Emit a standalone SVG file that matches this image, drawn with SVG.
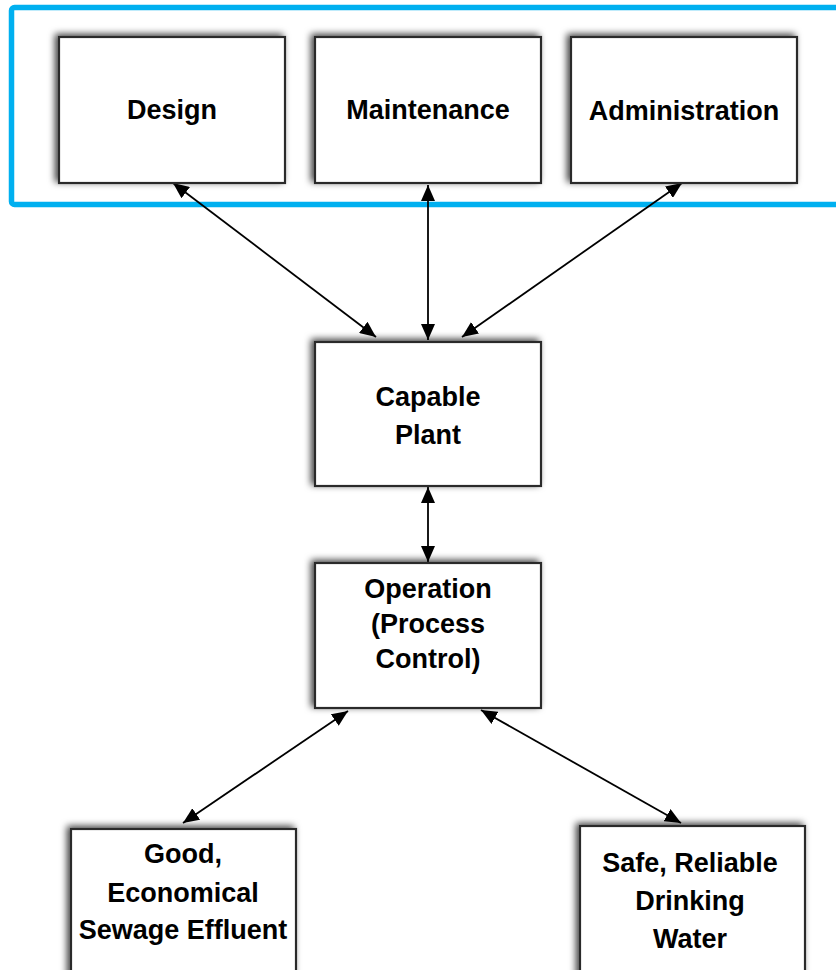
<svg xmlns="http://www.w3.org/2000/svg" width="836" height="970" viewBox="0 0 836 970">
  <style>
    .box { fill: #ffffff; stroke: #2b2b2b; stroke-width: 2.2; filter: url(#shadow); }
    .label { font-family: "Liberation Sans", Arial, sans-serif; font-weight: bold; font-size: 27px; fill: #000000; text-anchor: middle; }
    .link { stroke: #000000; stroke-width: 1.8; fill: none; marker-start: url(#head); marker-end: url(#head); }
    .frame { fill: none; stroke: #00B0F0; stroke-width: 5.5; }
  </style>
  <defs>
    <filter id="shadow" x="-20%" y="-20%" width="140%" height="140%">
      <feDropShadow dx="-3" dy="-2" stdDeviation="3.5" flood-color="#000000" flood-opacity="0.75"/>
    </filter>
    <marker id="head" markerUnits="userSpaceOnUse" markerWidth="16" markerHeight="14" refX="16" refY="7" orient="auto-start-reverse">
      <path d="M0,0 L16,7 L0,14 z" fill="#000000"/>
    </marker>
  </defs>

  <rect width="836" height="970" fill="#ffffff"/>

  <!-- support functions frame -->
  <rect class="frame" x="11.5" y="7.5" width="840" height="197" rx="3"/>

  <g id="connectors">
    <line class="link" x1="173" y1="183" x2="376" y2="337"/>
    <line class="link" x1="428" y1="185" x2="428" y2="340"/>
    <line class="link" x1="682" y1="183" x2="462" y2="337"/>
    <line class="link" x1="428" y1="487" x2="428" y2="562"/>
    <line class="link" x1="348" y1="711" x2="183" y2="823"/>
    <line class="link" x1="481" y1="710" x2="681" y2="823"/>
  </g>

  <g id="design">
    <rect class="box" x="59" y="37" width="226" height="146"/>
    <text class="label" x="172" y="119">Design</text>
  </g>
  <g id="maintenance">
    <rect class="box" x="315" y="37" width="226" height="146"/>
    <text class="label" x="428" y="119">Maintenance</text>
  </g>
  <g id="administration">
    <rect class="box" x="571" y="37" width="226" height="146"/>
    <text class="label" x="684" y="120">Administration</text>
  </g>
  <g id="capable-plant">
    <rect class="box" x="315" y="342" width="226" height="144"/>
    <text class="label" x="428" y="406">Capable</text>
    <text class="label" x="428" y="444">Plant</text>
  </g>
  <g id="operation">
    <rect class="box" x="315" y="563" width="226" height="145"/>
    <text class="label" x="428" y="598">Operation</text>
    <text class="label" x="428" y="633">(Process</text>
    <text class="label" x="428" y="668">Control)</text>
  </g>
  <g id="sewage-effluent">
    <rect class="box" x="71" y="829" width="225" height="160"/>
    <text class="label" x="183" y="863">Good,</text>
    <text class="label" x="183" y="902">Economical</text>
    <text class="label" x="183" y="939">Sewage Effluent</text>
  </g>
  <g id="drinking-water">
    <rect class="box" x="580" y="826" width="225" height="160"/>
    <text class="label" x="690" y="872">Safe, Reliable</text>
    <text class="label" x="690" y="910">Drinking</text>
    <text class="label" x="690" y="948">Water</text>
  </g>
</svg>
